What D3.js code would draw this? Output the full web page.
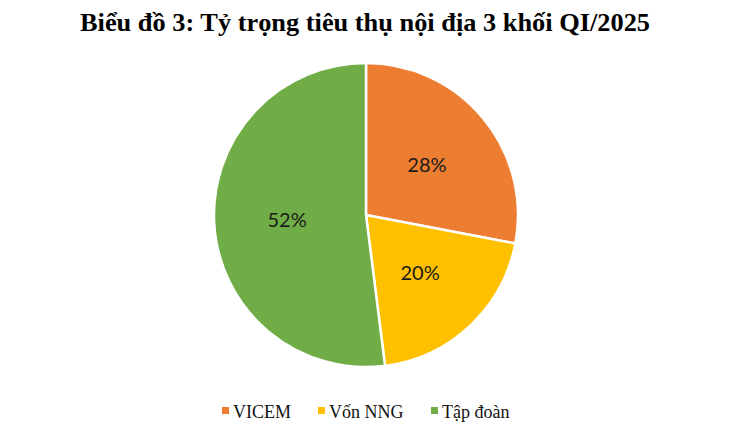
<!DOCTYPE html>
<html><head><meta charset="utf-8">
<script src="https://cdn.jsdelivr.net/npm/d3@7/dist/d3.min.js"></script>
<style>body{margin:0;background:#fff}svg{display:block}</style>
</head><body>
<svg id="c" width="750" height="436"></svg>
<script>
const categories = ["VICEM", "Vốn NNG", "Tập đoàn"];
const values = [28, 20, 52];
const labels = ["28%", "20%", "52%"];
const colors = ["#ED7D31", "#FFC000", "#70AD47"];
const title = "Biểu đồ 3: Tỷ trọng tiêu thụ nội địa 3 khối QI/2025";

const svg = d3.select("#c");
const cx = 366, cy = 215, r = 152;

svg.append("text").attr("x", 365).attr("y", 31).attr("text-anchor", "middle")
  .attr("font-family", "Liberation Serif, serif").attr("font-weight", "bold")
  .attr("font-size", 25).attr("fill", "#000")
  .attr("textLength", 570).attr("lengthAdjust", "spacingAndGlyphs")
  .text(title);

const pie = d3.pie().sort(null).value(d => d)(values);
const arc = d3.arc().innerRadius(0).outerRadius(r);
const g = svg.append("g").attr("transform", `translate(${cx},${cy})`);
g.selectAll("path").data(pie).join("path")
  .attr("d", arc).attr("fill", (d, i) => colors[i])
  .attr("stroke", "#fff").attr("stroke-width", 2.5).attr("stroke-linejoin", "round");

const labelArc = d3.arc().innerRadius(r * 0.52).outerRadius(r * 0.52);
g.selectAll("text.lbl").data(pie).join("text").attr("class", "lbl")
  .attr("transform", d => { const c = labelArc.centroid(d); return `translate(${c[0]},${c[1]})`; })
  .attr("text-anchor", "middle").attr("dy", "0.35em")
  .attr("font-family", "Lato, 'Open Sans', sans-serif").attr("font-size", 20).attr("fill", "#1a1a1a")
  .text((d, i) => labels[i]);

const legendX = [222, 318, 431];
const lg = svg.append("g");
categories.forEach((c, i) => {
  lg.append("rect").attr("x", legendX[i]).attr("y", 407).attr("width", 7).attr("height", 7).attr("fill", colors[i]);
  lg.append("text").attr("x", legendX[i] + 11).attr("y", 418)
    .attr("font-family", "Liberation Serif, serif").attr("font-size", 18).attr("fill", "#111").text(c);
});
</script>
</body></html>
